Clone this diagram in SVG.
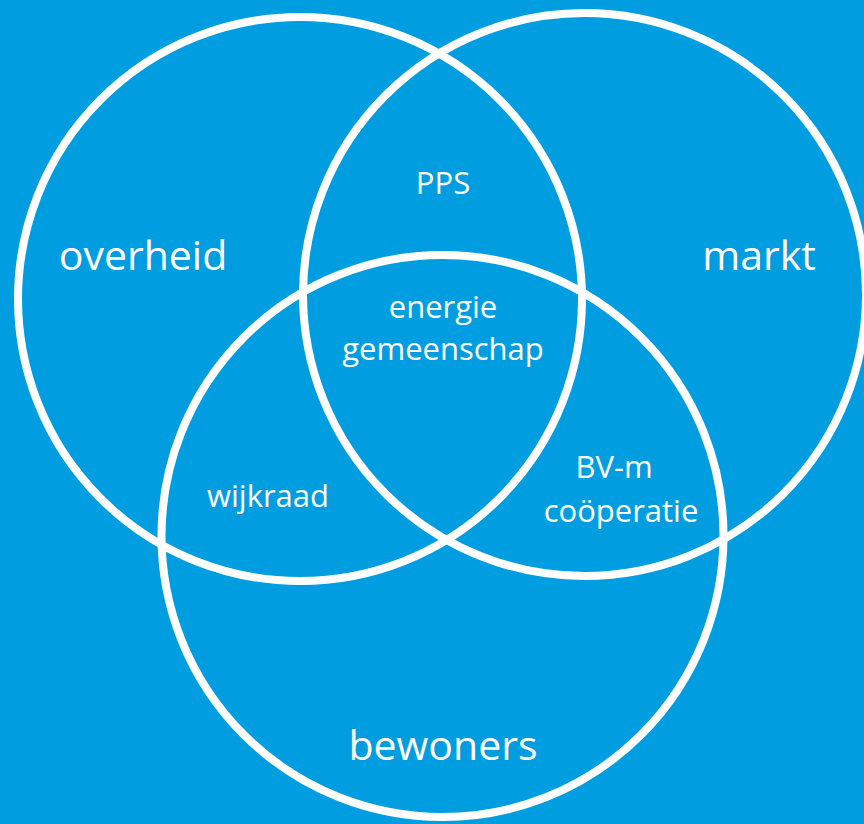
<svg xmlns="http://www.w3.org/2000/svg" width="864" height="824" viewBox="0 0 864 824">
<style>
.c{fill:none;stroke:#fff;stroke-width:8}
.t{fill:#fff;font-family:"Open Sans","Noto Sans",sans-serif;text-anchor:middle}
.big{font-size:41px}
.sm{font-size:31px}
</style>
<rect width="864" height="824" fill="#009EE0"/>
<g id="overheid"><circle class="c" cx="300" cy="299" r="282"/><text class="t big" x="143" y="270">overheid</text></g>
<g id="markt"><circle class="c" cx="584.5" cy="294.5" r="281.5"/><text class="t big" x="759" y="270">markt</text></g>
<g id="bewoners"><circle class="c" cx="442.5" cy="536" r="281"/><text class="t big" x="443" y="760">bewoners</text></g>
<g id="pps"><text class="t sm" x="443" y="194">PPS</text></g>
<g id="energiegemeenschap"><text class="t sm" x="443" y="318">energie</text><text class="t sm" x="443" y="360">gemeenschap</text></g>
<g id="wijkraad"><text class="t sm" x="268" y="507">wijkraad</text></g>
<g id="cooperatie"><text class="t sm" x="614" y="478">BV-m</text><text class="t sm" x="621" y="522">coöperatie</text></g>
<g id="connectors"/>
</svg>
